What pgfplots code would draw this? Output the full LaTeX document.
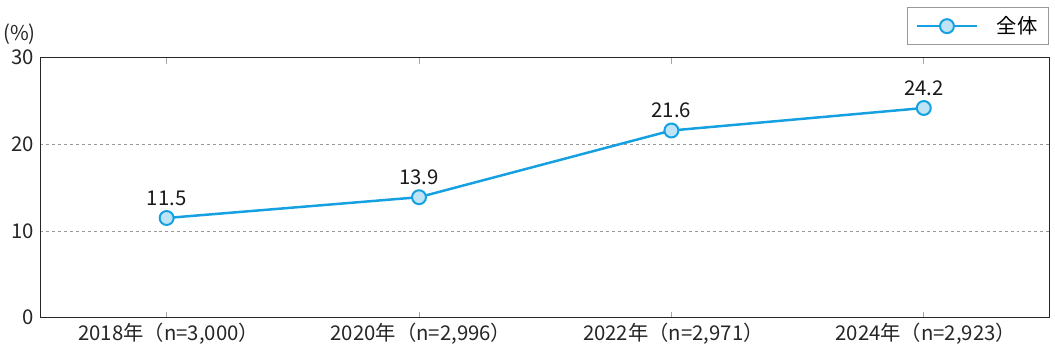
\documentclass[border=0pt]{standalone}
\usepackage{fontspec}
\setmainfont{Noto Sans CJK JP}
\usepackage{pgfplots}
\pgfplotsset{compat=1.18}
\definecolor{lineblue}{RGB}{20,160,225}
\definecolor{fillblue}{RGB}{190,228,246}
\begin{document}
\begin{tikzpicture}[x=1bp,y=1bp]
\begin{axis}[
  scale only axis,
  width=1014bp, height=261bp,
  xmin=-0.5, xmax=3.5, ymin=0, ymax=30,
  xtick={0,1,2,3},
  xticklabels={{2018年（n=3,000）},{2020年（n=2,996）},{2022年（n=2,971）},{2024年（n=2,923）}},
  ytick={0,10,20,30},
  tick align=inside,
  major tick length=6bp,
  xtick style={draw=gray!70, line width=0.8pt},
  ytick style={draw=none},
  ymajorgrids,
  grid style={dashed, gray!80, line width=0.6pt},
  axis line style={black!85, line width=1pt},
  tick label style={font=\fontsize{20.5}{23}\selectfont, text=black!85},
  xticklabel style={yshift=-2bp, xshift=2bp},
  yticklabel style={xshift=-3bp},
  /pgf/number format/assume math mode=true,
  legend style={at={(1,1)}, anchor=south east, yshift=13bp, xshift=-1bp,
    draw=gray!80, line width=0.8pt, font=\fontsize{20.5}{23}\selectfont,
    inner xsep=9bp, inner ysep=7bp,
    /tikz/every odd column/.append style={column sep=17bp}},
  legend image code/.code={\draw[#1, line width=2.5pt] (0bp,0bp) -- (60bp,0bp); \draw[#1, line width=2pt, mark repeat=1] plot coordinates {(30bp,0bp)};},
  legend cell align=left,
  nodes near coords,
  nodes near coords style={font=\fontsize{20.5}{23}\selectfont, text=black!90, yshift=8bp},
  point meta=explicit symbolic,
  clip=false,
]
\addplot[color=lineblue, line width=2.5pt, mark=*, mark size=7bp,
  mark options={fill=fillblue, draw=lineblue, line width=2pt}]
  coordinates {(0,11.5)[11.5] (1,13.9)[13.9] (2,21.6)[21.6] (3,24.2)[24.2]};
\addlegendentry{全体}
\node[font=\fontsize{20.5}{23}\selectfont, text=black!85] at ([xshift=-21bp,yshift=24bp]rel axis cs:0,1) {(\%)};
\end{axis}
\useasboundingbox (-36bp,-32bp) rectangle (1019bp,319bp);
\end{tikzpicture}
\end{document}
